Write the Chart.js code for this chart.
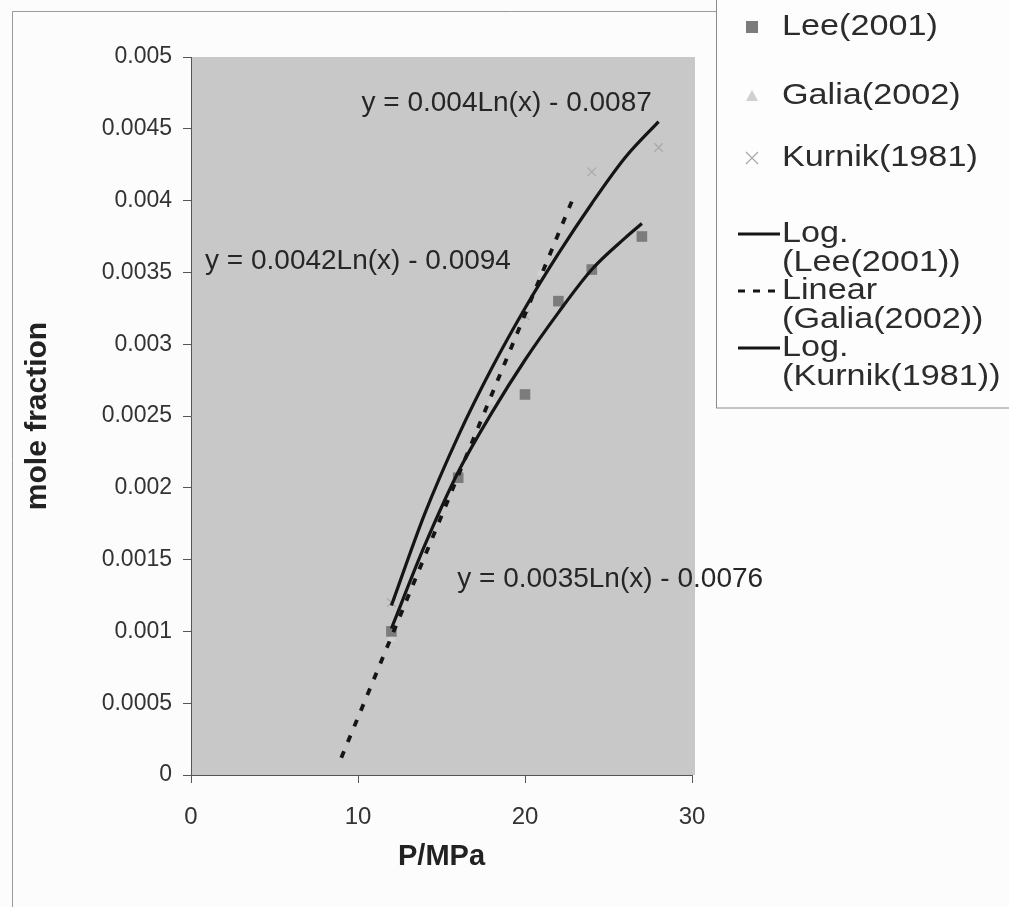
<!DOCTYPE html>
<html>
<head>
<meta charset="utf-8">
<script src="https://cdn.jsdelivr.net/npm/chart.js@4.4.1/dist/chart.umd.min.js"></script>
<style>
  html, body { margin: 0; padding: 0; background: #fcfcfc; }
  #wrap { position: relative; width: 1009px; height: 907px; }
</style>
</head>
<body>
<div id="wrap"><canvas id="chart" width="1009" height="907"></canvas></div>
<script>
// -----------------------------
// Data
// -----------------------------
const xTicks = [0, 10, 20, 30];

const leeX = [12, 16, 20, 22, 24, 27];
const leeY = [0.001, 0.00207, 0.00265, 0.0033, 0.00352, 0.00375];

const galiaX = [12, 16, 18, 21];
const galiaY = [0.00095, 0.00205, 0.0026, 0.0035];

const kurnikX = [12, 20, 24, 28];
const kurnikY = [0.0012, 0.0032, 0.0042, 0.00437];

// trendlines
const logLeeX = [12, 14, 16, 18, 20, 22, 24, 26, 27];
const logLeeY = [0.00102, 0.0016, 0.00211, 0.00252, 0.00289, 0.00322, 0.00352, 0.00374, 0.00384];

const linGaliaX = [9, 23];
const linGaliaY = [0.00012, 0.00405];

const logKurnikX = [12, 14, 16, 18, 20, 22, 24, 26, 28];
const logKurnikY = [0.00118, 0.00182, 0.00236, 0.00283, 0.00325, 0.00363, 0.00398, 0.0043, 0.00455];

// equation labels and where they sit (data coords of the text centre)
const equations = ["y = 0.004Ln(x) - 0.0087", "y = 0.0042Ln(x) - 0.0094", "y = 0.0035Ln(x) - 0.0076"];
const equationX = [18.9, 10.0, 25.1];
const equationY = [0.00468, 0.00358, 0.00136];

const FONT = "'Liberation Sans', Arial, sans-serif";

function pts(xs, ys) {
  return xs.map((x, i) => ({ x: x, y: ys[i] }));
}

// -----------------------------
// Legend entries (drawn by hand, box style like the picture)
// -----------------------------
const legendItems = [
  { kind: "square", lines: ["Lee(2001)"], y: 27 },
  { kind: "triangle", lines: ["Galia(2002)"], y: 96 },
  { kind: "cross", lines: ["Kurnik(1981)"], y: 158 },
  { kind: "solid", lines: ["Log.", "(Lee(2001))"], y: 234 },
  { kind: "dash", lines: ["Linear", "(Galia(2002))"], y: 291 },
  { kind: "solid", lines: ["Log.", "(Kurnik(1981))"], y: 348 }
];

function drawMarker(ctx, kind, x, y) {
  ctx.save();
  if (kind === "square") {
    ctx.fillStyle = "#7c7c7c";
    ctx.fillRect(x - 6, y - 6, 12, 12);
  } else if (kind === "triangle") {
    ctx.fillStyle = "#d0d0d0";
    ctx.beginPath();
    ctx.moveTo(x, y - 6);
    ctx.lineTo(x + 6, y + 5);
    ctx.lineTo(x - 6, y + 5);
    ctx.closePath();
    ctx.fill();
  } else if (kind === "cross") {
    ctx.strokeStyle = "#a8a8a8";
    ctx.lineWidth = 1.2;
    ctx.beginPath();
    ctx.moveTo(x - 6, y - 6); ctx.lineTo(x + 6, y + 6);
    ctx.moveTo(x + 6, y - 6); ctx.lineTo(x - 6, y + 6);
    ctx.stroke();
  }
  ctx.restore();
}

const decorPlugin = {
  id: "decor",
  beforeDraw(chart) {
    const ctx = chart.ctx;
    const a = chart.chartArea;
    ctx.save();
    // outer frame of the chart object
    ctx.strokeStyle = "#9a9a9a";
    ctx.lineWidth = 1;
    ctx.beginPath();
    ctx.moveTo(12.5, 907);
    ctx.lineTo(12.5, 11.5);
    ctx.lineTo(1009, 11.5);
    ctx.stroke();
    // plot area fill
    ctx.fillStyle = "#c8c8c8";
    ctx.fillRect(a.left, a.top, a.right - a.left + 3, a.bottom - a.top);
    ctx.restore();
  },
  afterDraw(chart) {
    const ctx = chart.ctx;
    const xs = chart.scales.x;
    const ys = chart.scales.y;
    ctx.save();
    // trendline equations
    ctx.fillStyle = "#262626";
    ctx.font = "28px " + FONT;
    ctx.textAlign = "center";
    ctx.textBaseline = "middle";
    equations.forEach((t, i) => {
      ctx.fillText(t, xs.getPixelForValue(equationX[i]), ys.getPixelForValue(equationY[i]));
    });

    // legend box
    ctx.fillStyle = "#fdfdfd";
    ctx.fillRect(716, 0, 293, 408);
    ctx.strokeStyle = "#8c8c8c";
    ctx.lineWidth = 1;
    ctx.strokeRect(716.5, -1, 300, 409);

    ctx.textAlign = "left";
    ctx.fillStyle = "#2c2c2c";
    ctx.font = "30px " + FONT;
    legendItems.forEach(item => {
      if (item.kind === "solid" || item.kind === "dash") {
        ctx.save();
        ctx.strokeStyle = "#151515";
        ctx.lineWidth = 3;
        if (item.kind === "dash") ctx.setLineDash([7, 8]);
        ctx.beginPath();
        ctx.moveTo(738, item.y);
        ctx.lineTo(780, item.y);
        ctx.stroke();
        ctx.restore();
      } else {
        drawMarker(ctx, item.kind, 752, item.y);
      }
      item.lines.forEach((line, j) => {
        ctx.save();
        ctx.translate(782, item.y + j * 29);
        ctx.scale(1.14, 1);
        ctx.fillText(line, 0, 0);
        ctx.restore();
      });
    });
    ctx.restore();
  }
};

const ctx = document.getElementById("chart").getContext("2d");

new Chart(ctx, {
  type: "scatter",
  data: {
    datasets: [
      {
        label: "Lee(2001)",
        data: pts(leeX, leeY),
        pointStyle: "rect",
        pointRadius: 7.5,
        backgroundColor: "#7c7c7c",
        borderColor: "#707070",
        borderWidth: 0,
        order: 1
      },
      {
        label: "Galia(2002)",
        data: pts(galiaX, galiaY),
        pointStyle: "triangle",
        pointRadius: 6,
        backgroundColor: "#d2d2d2",
        borderColor: "#d0d0d0",
        borderWidth: 0,
        order: 2
      },
      {
        label: "Kurnik(1981)",
        data: pts(kurnikX, kurnikY),
        pointStyle: "crossRot",
        pointRadius: 6,
        borderColor: "#a8a8a8",
        borderWidth: 1.2,
        order: 3
      },
      {
        label: "Log. (Lee(2001))",
        type: "line",
        data: pts(logLeeX, logLeeY),
        borderColor: "#151515",
        borderWidth: 3.2,
        pointRadius: 0,
        cubicInterpolationMode: "monotone",
        fill: false,
        order: 0
      },
      {
        label: "Linear (Galia(2002))",
        type: "line",
        data: pts(linGaliaX, linGaliaY),
        borderColor: "#151515",
        borderWidth: 3.8,
        borderDash: [7, 10],
        pointRadius: 0,
        fill: false,
        order: 0
      },
      {
        label: "Log. (Kurnik(1981))",
        type: "line",
        data: pts(logKurnikX, logKurnikY),
        borderColor: "#151515",
        borderWidth: 3.2,
        pointRadius: 0,
        cubicInterpolationMode: "monotone",
        fill: false,
        order: 0
      }
    ]
  },
  options: {
    responsive: false,
    animation: false,
    devicePixelRatio: 1,
    layout: { padding: { left: 0, top: 57, right: 317, bottom: 0 } },
    plugins: {
      legend: { display: false },
      tooltip: { enabled: false }
    },
    scales: {
      x: {
        type: "linear",
        min: 0,
        max: 30,
        afterFit(s) { s.height = 132; },
        afterBuildTicks(s) { s.ticks = xTicks.map(v => ({ value: v })); },
        grid: { drawOnChartArea: false, drawTicks: true, tickLength: 8, color: "#555" },
        border: { display: true, color: "#555", width: 1 },
        ticks: { color: "#333", padding: 20, font: { family: FONT, size: 24 } },
        title: {
          display: true,
          text: "P/MPa",
          color: "#222",
          font: { family: FONT, size: 29, weight: "bold" },
          padding: { top: 0, bottom: 33 }
        }
      },
      y: {
        type: "linear",
        min: 0,
        max: 0.005,
        afterFit(s) { s.width = 191; },
        grid: { drawOnChartArea: false, drawTicks: true, tickLength: 8, color: "#555" },
        border: { display: true, color: "#555", width: 1 },
        ticks: { stepSize: 0.0005, color: "#333", padding: 11, font: { family: FONT, size: 23 },
                 callback: v => String(+v.toFixed(4)) },
        title: {
          display: true,
          text: "mole fraction",
          color: "#222",
          font: { family: FONT, size: 30, weight: "bold" },
          padding: { top: 20, bottom: 0 }
        }
      }
    }
  },
  plugins: [decorPlugin]
});
</script>
</body>
</html>
